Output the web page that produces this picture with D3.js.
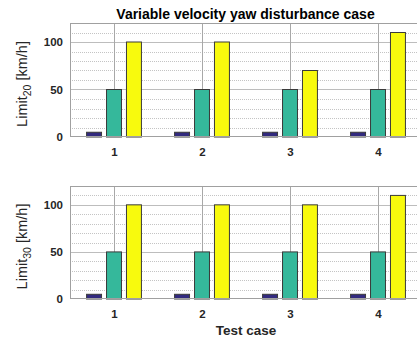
<!DOCTYPE html>
<html>
<head>
<meta charset="utf-8">
<script src="https://cdn.jsdelivr.net/npm/d3@7"></script>
<style>
  body { margin: 0; background: #fff; overflow: hidden; }
  svg { display: block; font-family: "Liberation Sans", Arial, sans-serif; }
</style>
</head>
<body>
<div id="chart"></div>
<script>
const testCases = [1, 2, 3, 4];
const seriesNames = ["low", "mid", "high"];
const seriesColors = ["#322a7e", "#35b89b", "#f8fa0d"];

// Limit_20 panel
const limit20Low = [5, 5, 5, 5];
const limit20Mid = [50, 50, 50, 50];
const limit20High = [100, 100, 70, 110];

// Limit_30 panel
const limit30Low = [5, 5, 5, 5];
const limit30Mid = [50, 50, 50, 50];
const limit30High = [100, 100, 100, 110];

const yTicks = [0, 50, 100];
const yMinorTicks = [10, 20, 30, 40, 60, 70, 80, 90, 110];

class GroupedBarPanel {
  constructor(_config, _series) {
    this.config = {
      svg: _config.svg,
      left: _config.left,
      top: _config.top,
      width: _config.width,
      height: _config.height,
      subscript: _config.subscript,
      showXLabel: _config.showXLabel || false,
    };
    this.series = _series;
    this.initVis();
  }

  initVis() {
    let vis = this;
    let c = vis.config;

    vis.xScale = d3.scaleLinear().domain([0.5, 4.5]).range([0, c.width]);
    vis.yScale = d3.scaleLinear().domain([0, 120]).range([c.height, 0]);
    vis.inner = d3
      .scaleBand()
      .domain(seriesNames)
      .range([-0.34, 0.34])
      .paddingInner(0.25)
      .paddingOuter(0.125);

    vis.chart = c.svg
      .append("g")
      .attr("transform", `translate(${c.left},${c.top})`);

    // minor dotted grid
    vis.chart
      .selectAll(".minor")
      .data(yMinorTicks)
      .join("line")
      .attr("x1", 0)
      .attr("x2", c.width)
      .attr("y1", (d) => Math.round(vis.yScale(d)) + 0.5)
      .attr("y2", (d) => Math.round(vis.yScale(d)) + 0.5)
      .attr("stroke", "#c4c4c4")
      .attr("stroke-dasharray", "1,1");

    // major grid
    vis.chart
      .selectAll(".major")
      .data(yTicks.slice(1))
      .join("line")
      .attr("x1", 0)
      .attr("x2", c.width)
      .attr("y1", (d) => Math.round(vis.yScale(d)) + 0.5)
      .attr("y2", (d) => Math.round(vis.yScale(d)) + 0.5)
      .attr("stroke", "#bdbdbd");

    vis.chart
      .selectAll(".vgrid")
      .data(testCases)
      .join("line")
      .attr("x1", (d) => Math.round(vis.xScale(d)) + 0.5)
      .attr("x2", (d) => Math.round(vis.xScale(d)) + 0.5)
      .attr("y1", 0)
      .attr("y2", c.height)
      .attr("stroke", "#a8a8a8");

    this.renderVis();
  }

  renderVis() {
    let vis = this;
    let c = vis.config;

    let barData = [];
    seriesNames.forEach((name, i) => {
      testCases.forEach((tc, j) => {
        barData.push({ name, i, tc, value: vis.series[i][j] });
      });
    });

    vis.chart
      .selectAll(".bar")
      .data(barData)
      .join("rect")
      .attr("class", "bar")
      .attr("x", (d) => vis.xScale(d.tc + vis.inner(d.name)))
      .attr("width", vis.xScale(vis.inner.bandwidth()) - vis.xScale(0))
      .attr("y", (d) => vis.yScale(d.value))
      .attr("height", (d) => c.height - vis.yScale(d.value))
      .attr("fill", (d) => seriesColors[d.i])
      .attr("stroke", "#3a3a3a")
      .attr("stroke-width", 1);

    // box
    vis.chart
      .append("rect")
      .attr("x", 0.5)
      .attr("y", 0.5)
      .attr("width", c.width)
      .attr("height", c.height - 1)
      .attr("fill", "none")
      .attr("stroke", "#a0a0a0");

    let yAxis = vis.chart
      .append("g")
      .call(d3.axisLeft(vis.yScale).tickValues(yTicks).tickSize(0).tickPadding(7));
    yAxis.select(".domain").remove();
    yAxis
      .selectAll("text")
      .attr("font-size", "11.5px")
      .attr("font-weight", "bold")
      .attr("fill", "#262626")
      .attr("font-family", "Liberation Sans, Arial, sans-serif");

    let xAxis = vis.chart
      .append("g")
      .attr("transform", `translate(0,${c.height})`)
      .call(
        d3.axisBottom(vis.xScale).tickValues(testCases).tickFormat(d3.format("d")).tickSize(0).tickPadding(11)
      );
    xAxis.select(".domain").remove();
    xAxis
      .selectAll("text")
      .attr("font-size", "11.5px")
      .attr("font-weight", "bold")
      .attr("fill", "#262626")
      .attr("font-family", "Liberation Sans, Arial, sans-serif");

    // y label with subscript
    let yl = vis.chart
      .append("text")
      .attr("transform", `translate(${-43},${c.height / 2 + 4}) rotate(-90)`)
      .attr("text-anchor", "middle")
      .attr("font-size", "14.5px")
      .attr("fill", "#262626");
    yl.append("tspan").text("Limit");
    yl.append("tspan").attr("dy", 4).attr("font-size", "10.5px").text(c.subscript);
    yl.append("tspan").attr("dy", -4).text(" [km/h]");

    if (c.showXLabel) {
      vis.chart
        .append("text")
        .attr("x", c.width / 2)
        .attr("y", c.height + 36)
        .attr("text-anchor", "middle")
        .attr("font-size", "13.5px")
        .attr("font-weight", "bold")
        .attr("fill", "#262626")
        .text("Test case");
    }
  }
}

const svg = d3.select("#chart").append("svg").attr("width", 417).attr("height", 339);

svg
  .append("text")
  .attr("x", 245.5)
  .attr("y", 19)
  .attr("text-anchor", "middle")
  .attr("font-size", "14px")
  .attr("font-weight", "bold")
  .attr("fill", "#000")
  .text("Variable velocity yaw disturbance case");

new GroupedBarPanel(
  { svg, left: 70, top: 23, width: 352, height: 114, subscript: "20" },
  [limit20Low, limit20Mid, limit20High]
);
new GroupedBarPanel(
  { svg, left: 70, top: 186, width: 352, height: 113, subscript: "30", showXLabel: true },
  [limit30Low, limit30Mid, limit30High]
);
</script>
</body>
</html>
